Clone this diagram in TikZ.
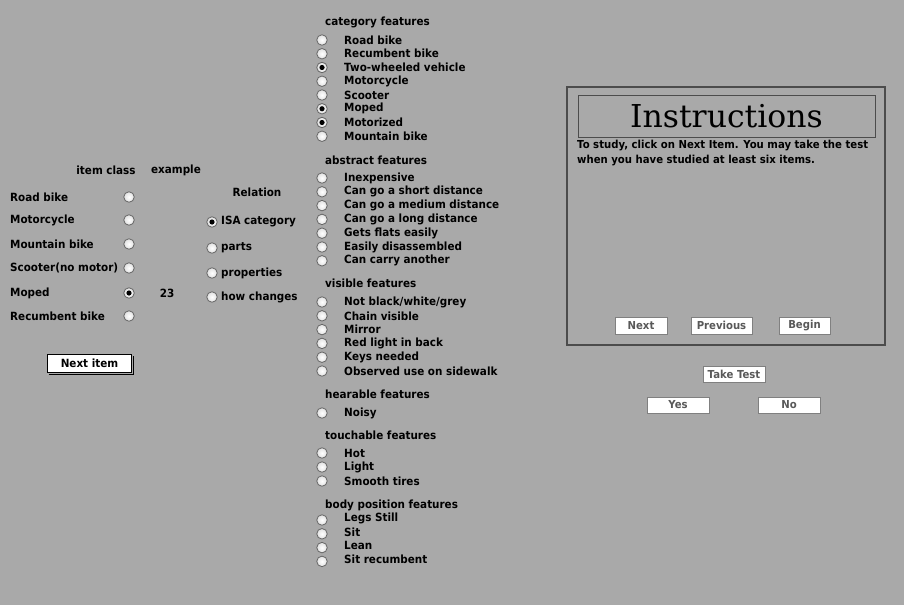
\documentclass[tikz,border=0pt]{standalone}
\usepackage{fontspec}
\setmainfont{DejaVu Sans}[FakeStretch=0.92]
\newfontfamily\titlefont{DejaVu Serif}
\usetikzlibrary{positioning}
\definecolor{screen}{HTML}{A9A9A9}
\definecolor{frame}{HTML}{4C4C4C}
\tikzset{
  lbl/.style={inner sep=0pt, anchor=west, font=\fontsize{11.3}{13}\selectfont\bfseries},
  head/.style={inner sep=0pt, font=\fontsize{11.3}{13}\selectfont\bfseries},
  radio/.style={circle, draw=black!60, line width=0.8pt, inner sep=0pt,
    minimum size=10.5pt, inner color=white, outer color=black!12,
    path picture={\ifnum#1=1 \fill[black] (path picture bounding box.center) circle (2.6pt);\fi}},
  radio/.default=0,
  btn/.style={draw=black!50, fill=white, inner sep=0pt,
    font=\fontsize{11}{13}\selectfont\bfseries, text=black!65},
}
\begin{document}
\begin{tikzpicture}[x=1pt,y=-1pt]
  \useasboundingbox (0,0) rectangle (904,605);
  \fill[screen] (0,0) rectangle (904,605);

  % left panel: item class / example
  \node[head] (hclass) at (106,170) {item class};
  \node[head] (hexample) at (176,170) {example};
  \foreach \txt/\y/\on [count=\i] in {Road bike/197/0, Motorcycle/220/0, Mountain bike/244/0,
      Scooter(no motor)/268/0, Moped/293/1, Recumbent bike/316/0} {
    \node[lbl] (cls\i) at (10,\y) {\txt};
    \node[radio=\on] (clsr\i) at (129,\y) {};
  }
  \node[head] (exnum) at (167,293) {23};

  % relation
  \node[head] (hrel) at (257,192) {Relation};
  \foreach \txt/\y/\on [count=\i] in {ISA category/222/1, parts/248/0,
      properties/273/0, how changes/297/0} {
    \node[radio=\on] (relr\i) at (212,\y) {};
    \node[lbl] (rel\i) at (221,\y) {\txt};
  }

  % next item button
  \node[btn, draw=black, line width=0.8pt, text=black, minimum width=84pt,
    minimum height=18pt, font=\fontsize{11.3}{13}\selectfont\bfseries] (nextitem) at (89.5,363.5) {Next item};
  \draw[line width=1.2pt] ([xshift=1.5pt,yshift=-1.5pt]nextitem.south west)
    -- ([xshift=1.5pt,yshift=-1.5pt]nextitem.south east)
    -- ([xshift=1.5pt,yshift=-1.5pt]nextitem.north east);

  % feature lists
  \node[lbl] (hcat) at (325,22) {category features};
  \foreach \txt/\on [count=\i] in {Road bike/0, Recumbent bike/0, Two-wheeled vehicle/1,
      Motorcycle/0, Scooter/0, Moped/1, Motorized/1, Mountain bike/0} {
    \node[radio=\on] (catr\i) at (322,{40+13.75*(\i-1)}) {};
    \node[lbl] (cat\i) at (344,{40+13.75*(\i-1)}) {\txt};
  }
  \node[lbl] (habs) at (325,160) {abstract features};
  \foreach \txt [count=\i] in {Inexpensive, Can go a short distance, Can go a medium distance,
      Can go a long distance, Gets flats easily, Easily disassembled, Can carry another} {
    \node[radio] (absr\i) at (322,{178+13.8*(\i-1)}) {};
    \node[lbl] (abs\i) at (344,{178+13.8*(\i-1)}) {\txt};
  }
  \node[lbl] (hvis) at (325,283) {visible features};
  \foreach \txt [count=\i] in {Not black/white/grey, Chain visible, Mirror,
      Red light in back, Keys needed, Observed use on sidewalk} {
    \node[radio] (visr\i) at (322,{302+13.8*(\i-1)}) {};
    \node[lbl] (vis\i) at (344,{302+13.8*(\i-1)}) {\txt};
  }
  \node[lbl] (hhear) at (325,394) {hearable features};
  \node[radio] (hearr1) at (322,413) {};
  \node[lbl] (hear1) at (344,413) {Noisy};
  \node[lbl] (htouch) at (325,435) {touchable features};
  \foreach \txt [count=\i] in {Hot, Light, Smooth tires} {
    \node[radio] (touchr\i) at (322,{453+14*(\i-1)}) {};
    \node[lbl] (touch\i) at (344,{453+14*(\i-1)}) {\txt};
  }
  \node[lbl] (hbody) at (325,505) {body position features};
  \foreach \txt [count=\i] in {Legs Still, Sit, Lean, Sit recumbent} {
    \node[radio] (bodyr\i) at (322,{520+13.8*(\i-1)}) {};
    \node[lbl] (body\i) at (344,{518+13.8*(\i-1)}) {\txt};
  }

  % instructions window
  \draw[frame, line width=1.3pt] (567,87) rectangle (885,345);
  \node[draw=frame, line width=1pt, minimum width=297pt, minimum height=42pt,
    inner sep=0pt, font=\titlefont\fontsize{31.5}{33}\selectfont] (title) at (726.5,116) {Instructions};
  \node[lbl, anchor=north west, align=left, font=\fontsize{11}{15}\selectfont\bfseries]
    (instr) at (577,139.5) {To study, click on Next Item. You may take the test\\
    when you have studied at least six items.};
  \node[btn, minimum width=52pt, minimum height=17pt] (bnext) at (641,325.5) {Next};
  \node[btn, minimum width=61pt, minimum height=17pt] (bprev) at (721.5,325.5) {Previous};
  \node[btn, minimum width=51pt, minimum height=17pt] (bbegin) at (804.5,325.5) {Begin};

  % test buttons
  \node[btn, minimum width=62pt, minimum height=16pt] (btest) at (734,374) {Take Test};
  \node[btn, minimum width=62pt, minimum height=16pt] (byes) at (678,405) {Yes};
  \node[btn, minimum width=62pt, minimum height=16pt] (bno) at (789,405) {No};
\end{tikzpicture}
\end{document}
